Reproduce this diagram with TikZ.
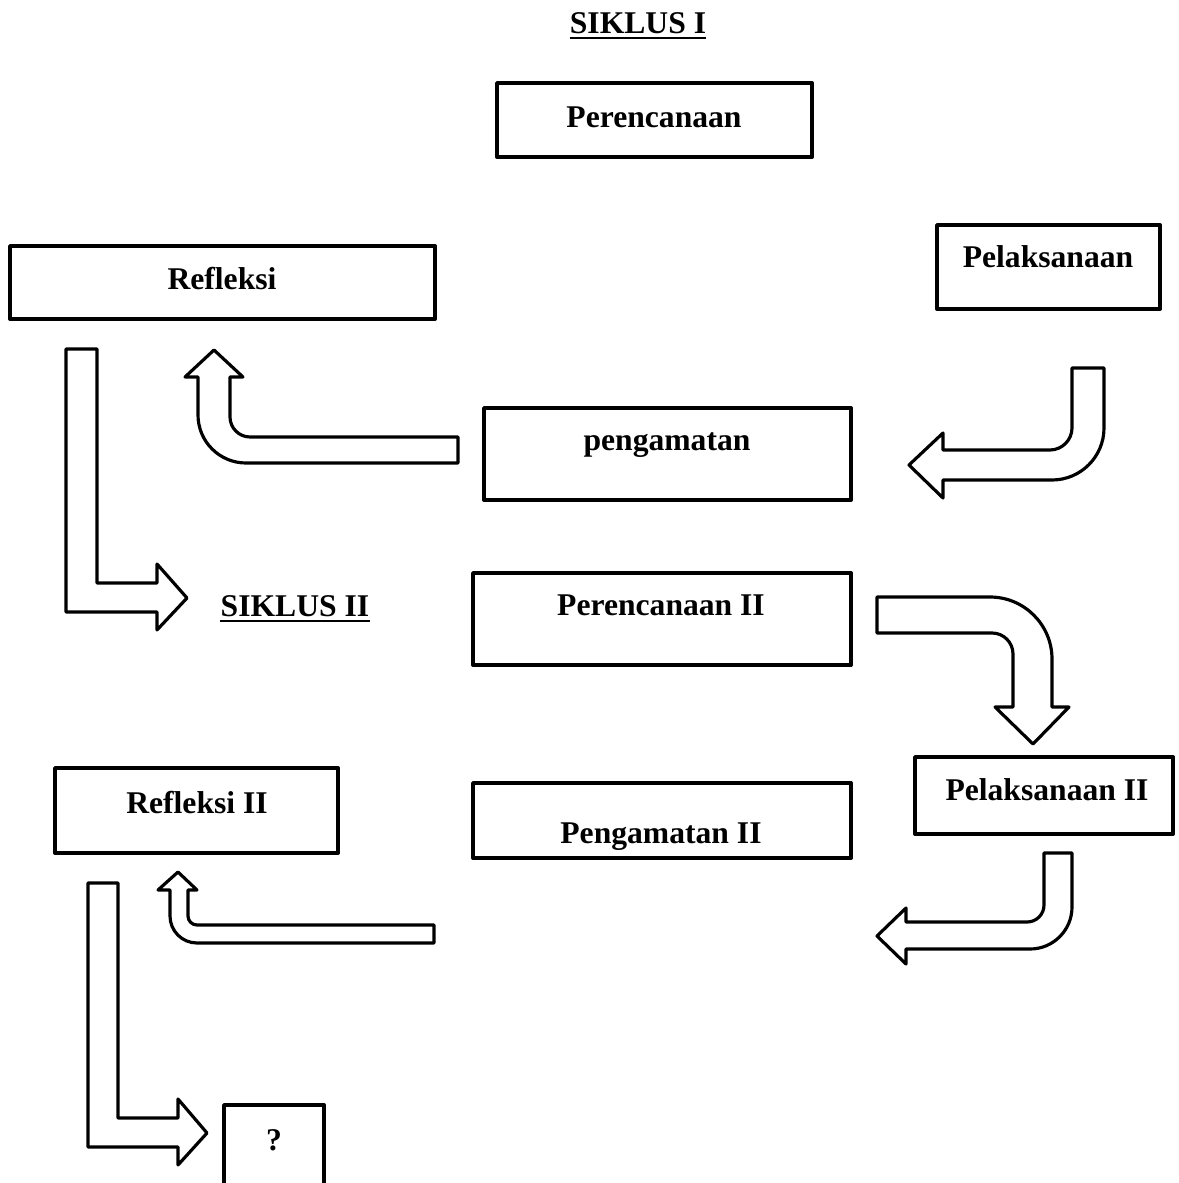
\documentclass[tikz,border=0pt]{standalone}
\usepackage{fontspec}
\setmainfont{Liberation Serif}
\usetikzlibrary{fit,calc}
\begin{document}
\begin{tikzpicture}[x=0.02cm,y=-0.02cm,
  box/.style={draw,line width=2.2pt,inner sep=0pt,line join=round},
  lbl/.style={inner sep=0pt,anchor=base,font=\bfseries\fontsize{18}{21}\selectfont},
  barrow/.style={draw,line width=1.8pt,line join=round,fill=white},
  uline/.style={line width=1.2pt}]
\useasboundingbox (0,0) rectangle (1179,1183);
\clip (0,0) rectangle (1179,1183);
\fill[white] (0,0) rectangle (1179,1183);

% titles
\node[lbl] (s1) at (638,33) {SIKLUS I};
\draw[uline] ($(s1.base west)+(0,5)$) -- ($(s1.base east)+(0,5)$);
\node[lbl] (s2) at (295,616) {SIKLUS II};
\draw[uline] ($(s2.base west)+(0,5)$) -- ($(s2.base east)+(0,5)$);

% boxes
\node[box,fit={(497,83) (812,157)}] (per1) {};
\node[lbl] (tper1) at (654,127) {Perencanaan};
\node[box,fit={(10,246) (435,319)}] (ref1) {};
\node[lbl] (tref1) at (222,289) {Refleksi};
\node[box,fit={(937,225) (1160,309)}] (pel1) {};
\node[lbl] (tpel1) at (1048,267) {Pelaksanaan};
\node[box,fit={(484,408) (851,500)}] (pen1) {};
\node[lbl] (tpen1) at (667,450) {pengamatan};
\node[box,fit={(473,573) (851,665)}] (per2) {};
\node[lbl] (tper2) at (661,615) {Perencanaan II};
\node[box,fit={(915,757) (1173,834)}] (pel2) {};
\node[lbl] (tpel2) at (1047,800) {Pelaksanaan II};
\node[box,fit={(55,768) (338,853)}] (ref2) {};
\node[lbl] (tref2) at (197,813) {Refleksi II};
\node[box,fit={(473,783) (851,858)}] (pen2) {};
\node[lbl] (tpen2) at (661,843) {Pengamatan II};
\node[box,fit={(224,1105) (324,1195)}] (q) {};
\node[lbl] (tq) at (274,1150) {?};

% arrow pengamatan -> Refleksi
\draw[barrow] (458,437) -- (250,437) .. controls (239,437) and (230,428) .. (230,417)
  -- (230,377) -- (243,377) -- (214,350) -- (185,377) -- (198,377) -- (198,415)
  .. controls (198,441.5) and (219.5,463) .. (246,463) -- (458,463) -- cycle;
% arrow Pelaksanaan -> pengamatan
\draw[barrow] (1072,368) -- (1104,368) -- (1104,428) .. controls (1104,456.7) and (1080.7,480) .. (1052,480)
  -- (943,480) -- (943,498) -- (909,465) -- (943,433) -- (943,450) -- (1050,450)
  .. controls (1062,450) and (1072,440) .. (1072,428) -- cycle;
% arrow Refleksi -> SIKLUS II
\draw[barrow] (66,349) -- (97,349) -- (97,583) -- (157,583) -- (157,564) -- (187,598)
  -- (157,630) -- (157,612) -- (66,612) -- cycle;
% arrow Perencanaan II -> Pelaksanaan II
\draw[barrow] (877,597) -- (990,597) .. controls (1024.2,597) and (1052,624.8) .. (1052,659)
  -- (1052,707) -- (1069,707) -- (1033,744) -- (995,707) -- (1013,707) -- (1013,654)
  .. controls (1013,642.4) and (1003.6,633) .. (992,633) -- (877,633) -- cycle;
% arrow Pelaksanaan II -> Pengamatan II
\draw[barrow] (1044,853) -- (1072,853) -- (1072,907) .. controls (1072,930.2) and (1053.2,949) .. (1030,949)
  -- (906,949) -- (906,964) -- (877,936) -- (906,908) -- (906,922) -- (1027,922)
  .. controls (1036.4,922) and (1044,914.4) .. (1044,905) -- cycle;
% arrow Pengamatan II -> Refleksi II
\draw[barrow] (434,925) -- (197,925) .. controls (192,925) and (188,921) .. (188,916)
  -- (188,890) -- (197,890) -- (178,872) -- (158,890) -- (170,890) -- (170,916)
  .. controls (170,930.9) and (182.1,943) .. (197,943) -- (434,943) -- cycle;
% arrow Refleksi II -> ?
\draw[barrow] (88,883) -- (118,883) -- (118,1118) -- (178,1118) -- (178,1099) -- (207,1133)
  -- (178,1165) -- (178,1147) -- (88,1147) -- cycle;
\end{tikzpicture}
\end{document}
